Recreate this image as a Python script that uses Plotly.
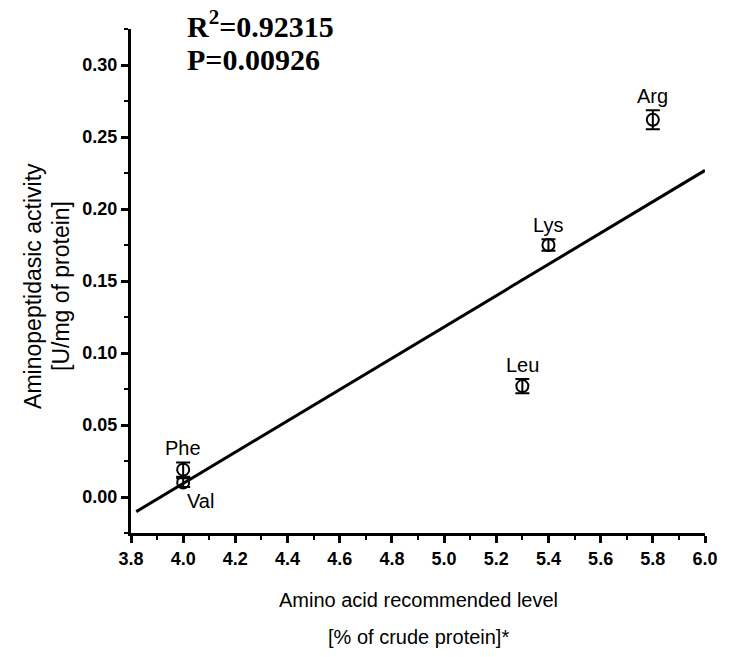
import plotly.graph_objects as go
import numpy as np

# ---- data ----
amino_acids = ["Phe", "Val", "Leu", "Lys", "Arg"]
recommended_level = [4.0, 4.0, 5.3, 5.4, 5.8]
activity = [0.019, 0.010, 0.077, 0.175, 0.262]
activity_err = [0.005, 0.003, 0.005, 0.004, 0.0066]

fit_x_range = [3.82, 6.0]
fit_slope = 0.1087
fit_intercept = -0.4254

r2_text = "R<sup>2</sup>=0.92315"
p_text = "P=0.00926"

x_ticks = [3.8, 4.0, 4.2, 4.4, 4.6, 4.8, 5.0, 5.2, 5.4, 5.6, 5.8, 6.0]
y_ticks = [0.00, 0.05, 0.10, 0.15, 0.20, 0.25, 0.30]

x_title = ["Amino acid recommended level", "[% of crude protein]*"]
y_title = ["Aminopeptidasic activity", "[U/mg of protein]"]

# ---- figure ----
fit_x = np.array(fit_x_range)
fit_y = fit_slope * fit_x + fit_intercept

fig = go.Figure()
fig.add_trace(go.Scatter(
    x=fit_x, y=fit_y, mode="lines",
    line=dict(color="black", width=3), showlegend=False, hoverinfo="skip"))
fig.add_trace(go.Scatter(
    x=recommended_level, y=activity, mode="markers",
    marker=dict(symbol="circle-open", size=12, color="black", line=dict(width=2, color="black")),
    error_y=dict(type="data", array=activity_err, visible=True, color="black", thickness=2, width=7),
    showlegend=False))

sans = "Liberation Sans, Arial, sans-serif"
serif = "Liberation Serif, Times New Roman, serif"

label_style = {
    "Val": dict(xanchor="left", yanchor="top", xshift=2, yshift=-5, use_err=False),
}
for name, xv, yv, ev in zip(amino_acids, recommended_level, activity, activity_err):
    st = label_style.get(name, dict(xanchor="center", yanchor="bottom", xshift=0, yshift=1, use_err=True))
    yy = yv + ev if st["use_err"] else yv
    fig.add_annotation(x=xv, y=yy, xref="x", yref="y", text=name, showarrow=False,
                       xanchor=st["xanchor"], yanchor=st["yanchor"],
                       xshift=st["xshift"], yshift=st["yshift"],
                       font=dict(family=sans, size=20, color="black"))

fig.add_annotation(x=0.094, y=1.01, xref="paper", yref="paper", text="<b>" + r2_text + "</b>",
                   showarrow=False, xanchor="left", yanchor="middle",
                   font=dict(family=serif, size=30, color="black"))
fig.add_annotation(x=0.094, y=0.94, xref="paper", yref="paper", text="<b>" + p_text + "</b>",
                   showarrow=False, xanchor="left", yanchor="middle",
                   font=dict(family=serif, size=30, color="black"))

for txt, yp in zip(x_title, [-0.133, -0.206]):
    fig.add_annotation(x=0.5, y=yp, xref="paper", yref="paper", text=txt, showarrow=False,
                       xanchor="center", yanchor="middle",
                       font=dict(family=sans, size=20, color="black"))
for txt, xp in zip(y_title, [-0.171, -0.122]):
    fig.add_annotation(x=xp, y=0.49, xref="paper", yref="paper", text=txt, showarrow=False,
                       textangle=-90, xanchor="center", yanchor="middle",
                       font=dict(family=sans, size=23, color="black"))

axis_common = dict(
    showline=True, linewidth=3, linecolor="black", showgrid=False, zeroline=False,
    ticks="outside", ticklen=7, tickwidth=3, tickcolor="black",
    tickfont=dict(family=sans, size=18, color="black", weight="bold"),
)
fig.update_xaxes(range=[3.8, 6.0], tickvals=x_ticks, ticktext=[f"{v:.1f}" for v in x_ticks],
                 minor=dict(dtick=0.1, tick0=3.8, ticks="outside", ticklen=4, tickwidth=2, tickcolor="black"),
                 **axis_common)
fig.update_yaxes(range=[-0.025, 0.325], tickvals=y_ticks, ticktext=[f"{v:.2f}" for v in y_ticks],
                 minor=dict(dtick=0.025, tick0=0, ticks="outside", ticklen=4, tickwidth=2, tickcolor="black"),
                 **axis_common)

fig.update_layout(
    width=731, height=657,
    margin=dict(l=131, r=26, t=29, b=124),
    plot_bgcolor="white", paper_bgcolor="white",
)
fig.write_html("out.html")
